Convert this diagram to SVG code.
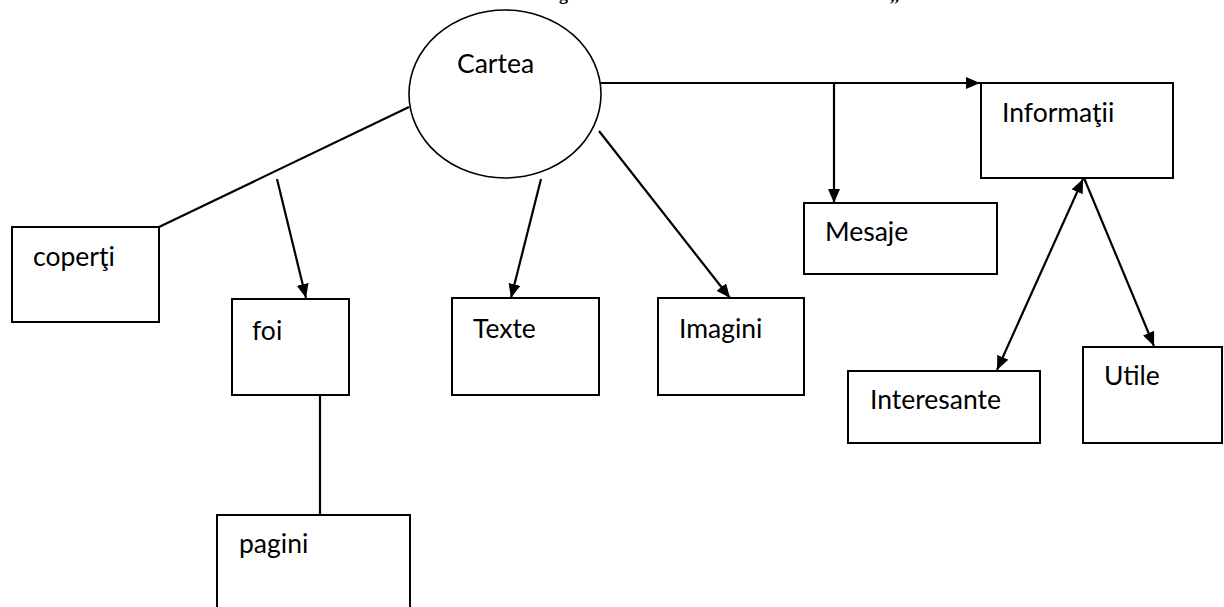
<svg xmlns="http://www.w3.org/2000/svg" width="1224" height="607" viewBox="0 0 1224 607">
<defs>
<marker id="ah" viewBox="0 0 14 12" refX="14" refY="6" markerWidth="14" markerHeight="12" markerUnits="userSpaceOnUse" orient="auto-start-reverse">
<path d="M0,0 L14,6 L0,12 Z" fill="#000"/>
</marker>
<style>
.box{fill:#fff;stroke:#000;stroke-width:2}
.lbl{font-family:Lato,"Open Sans","Liberation Sans",sans-serif;font-size:26.5px;fill:#000}
.ln{stroke:#000;stroke-width:2.2;fill:none}
.ttl{font-family:"Liberation Serif",serif;font-weight:bold;font-size:18px;fill:#000}
</style>
</defs>
<rect width="1224" height="607" fill="#fff"/>
<g id="title">
<text class="ttl" x="559" y="0">g</text>
<text class="ttl" x="890" y="1">,,</text>
</g>
<g id="connectors">
<line class="ln" x1="159" y1="227" x2="409" y2="107"/>
<line class="ln" x1="277" y1="179" x2="306" y2="298" marker-end="url(#ah)"/>
<line class="ln" x1="320" y1="395" x2="320" y2="515"/>
<line class="ln" x1="541" y1="179" x2="511" y2="298" marker-end="url(#ah)"/>
<line class="ln" x1="599" y1="131" x2="730" y2="298" marker-end="url(#ah)"/>
<line class="ln" x1="601" y1="83" x2="980" y2="83" marker-end="url(#ah)"/>
<line class="ln" x1="834" y1="83" x2="834" y2="203" marker-end="url(#ah)"/>
<line class="ln" x1="1083" y1="179" x2="997" y2="370" marker-start="url(#ah)" marker-end="url(#ah)"/>
<line class="ln" x1="1084" y1="178" x2="1154" y2="346" marker-end="url(#ah)"/>
</g>
<g id="cartea">
<ellipse cx="505" cy="94" rx="96" ry="84" fill="#fff" stroke="#000" stroke-width="1.6"/>
<text class="lbl" x="457" y="73">Cartea</text>
</g>
<g id="coperti">
<rect class="box" x="12" y="227" width="147" height="95"/>
<text class="lbl" x="33" y="266">coperţi</text>
</g>
<g id="foi">
<rect class="box" x="232" y="299" width="117" height="96"/>
<text class="lbl" x="252" y="340">foi</text>
</g>
<g id="pagini">
<rect class="box" x="217" y="515" width="193" height="110"/>
<text class="lbl" x="239" y="553">pagini</text>
</g>
<g id="texte">
<rect class="box" x="452" y="298" width="147" height="97"/>
<text class="lbl" x="473" y="338">Texte</text>
</g>
<g id="imagini">
<rect class="box" x="658" y="298" width="146" height="97"/>
<text class="lbl" x="679" y="338">Imagini</text>
</g>
<g id="mesaje">
<rect class="box" x="804" y="203" width="193" height="71"/>
<text class="lbl" x="825" y="241">Mesaje</text>
</g>
<g id="informatii">
<rect class="box" x="981" y="83" width="192" height="95"/>
<text class="lbl" x="1002" y="122">Informaţii</text>
</g>
<g id="interesante">
<rect class="box" x="848" y="371" width="192" height="72"/>
<text class="lbl" x="870" y="409">Interesante</text>
</g>
<g id="utile">
<rect class="box" x="1083" y="347" width="139" height="96"/>
<text class="lbl" x="1104" y="385">Utile</text>
</g>
</svg>
